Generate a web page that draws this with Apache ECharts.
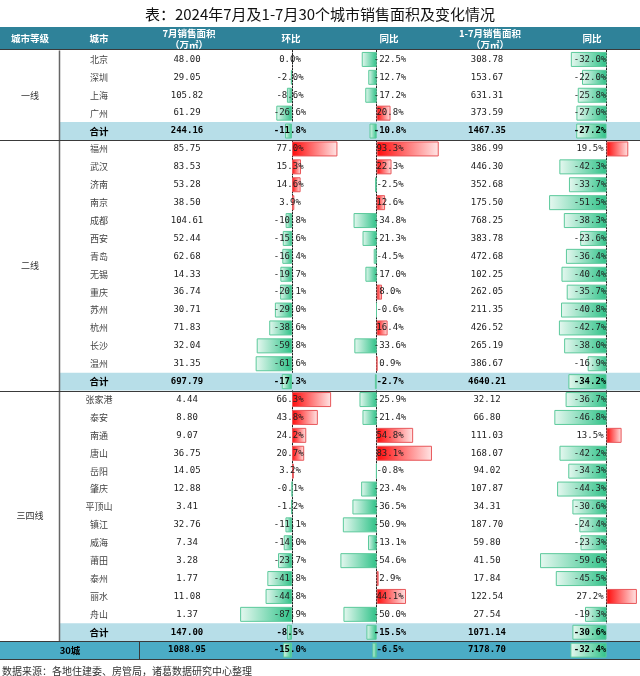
<!DOCTYPE html>
<html><head><meta charset="utf-8">
<script src="https://cdn.jsdelivr.net/npm/echarts/dist/echarts.min.js"></script>
<style>html,body{margin:0;padding:0;background:#fff}#c{width:640px;height:676px}</style>
</head><body><div id="c"></div>
<script>
// ---------- data ----------
const cities = ['北京','深圳','上海','广州','合计','福州','武汉','济南','南京','成都','西安','青岛','无锡','重庆','苏州','杭州','长沙','温州','合计','张家港','泰安','南通','唐山','岳阳','肇庆','平顶山','镇江','威海','莆田','泰州','丽水','舟山','合计','30城'];
const monthArea = [48.00,29.05,105.82,61.29,244.16, 85.75,83.53,53.28,38.50,104.61,52.44,62.68,14.33,36.74,30.71,71.83,32.04,31.35,697.79, 4.44,8.80,9.07,36.75,14.05,12.88,3.41,32.76,7.34,3.28,1.77,11.08,1.37,147.00, 1088.95];
const momPct = [0.0,-2.0,-8.6,-26.6,-11.8, 77.0,15.3,14.6,3.9,-10.8,-15.6,-16.4,-19.7,-20.1,-29.0,-38.6,-59.8,-61.6,-17.3, 66.3,43.8,24.2,20.7,3.2,-0.1,-1.2,-11.1,-14.0,-23.7,-41.8,-44.8,-87.9,-8.5, -15.0];
const yoyPct = [-22.5,-12.7,-17.2,20.8,-10.8, 93.3,22.3,-2.5,12.6,-34.8,-21.3,-4.5,-17.0,8.0,-0.6,16.4,-33.6,0.9,-2.7, -25.9,-21.4,54.8,83.1,-0.8,-23.4,-36.5,-50.9,-13.1,-54.6,2.9,44.1,-50.0,-15.5, -6.5];
const ytdArea = [308.78,153.67,631.31,373.59,1467.35, 386.99,446.30,352.68,175.50,768.25,383.78,472.68,102.25,262.05,211.35,426.52,265.19,386.67,4640.21, 32.12,66.80,111.03,168.07,94.02,107.87,34.31,187.70,59.80,41.50,17.84,122.54,27.54,1071.14, 7178.70];
const ytdYoyPct = [-32.0,-22.0,-25.8,-27.0,-27.2, 19.5,-42.3,-33.7,-51.5,-38.3,-23.6,-36.4,-40.4,-35.7,-40.8,-42.7,-38.0,-16.9,-34.2, -36.7,-46.8,13.5,-42.2,-34.3,-44.3,-30.6,-24.4,-23.3,-59.6,-45.5,27.2,-19.3,-30.6, -32.4];
const tierNames = ['一线','二线','三四线'];
const tierFirstRow = [0,5,19];
const tierLastRow = [4,18,32];
const headerLabels = ['城市等级','城市','7月销售面积\n（万㎡）','环比','同比','1-7月销售面积\n（万㎡）','同比'];
const titleText = '表：2024年7月及1-7月30个城市销售面积及变化情况';
const sourceText = '数据来源：各地住建委、房管局，诸葛数据研究中心整理';

// ---------- layout ----------
const W = 640, TOP = 50.5, ROWH = 17.9, N = cities.length, H = ROWH * N;
const CJK = '"Noto Sans CJK SC"';
const MONO = '"DejaVu Sans Mono"';
const rows = cities.map((_, i) => i);
const lastRow = N - 1;
const isTotal = i => cities[i] === '合计' || i === lastRow;
const pct = v => v.toFixed(1) + '%';

const chart = echarts.init(document.getElementById('c'), null, {renderer: 'canvas'});

const redGrad = () => new echarts.graphic.LinearGradient(0, 0, 1, 0, [{offset: 0, color: '#FF0A0A'}, {offset: 1, color: '#FFE6E6'}]);
const greenGrad = () => new echarts.graphic.LinearGradient(0, 0, 1, 0, [{offset: 0, color: '#E6F8F0'}, {offset: 1, color: '#2FC288'}]);
function barData(arr) {
  return arr.map(v => ({
    value: v,
    itemStyle: v >= 0
      ? {color: redGrad(), borderColor: '#E8575A', borderWidth: v === 0 ? 0 : 1}
      : {color: greenGrad(), borderColor: '#5BC99B', borderWidth: 1}
  }));
}

// grids: 0 = table text, 1 = 环比 bars, 2 = 同比 bars, 3 = 累计同比 bars
const barCols = [
  {left: 233, width: 118, min: -100, max: 100, data: momPct},
  {left: 310.2, width: 133, min: -100, max: 100, data: yoyPct},
  {left: 517.3, width: 123.75, min: -80, max: 30, data: ytdYoyPct}
];
const grids = [{left: 0, width: W, top: TOP, height: H, containLabel: false}]
  .concat(barCols.map(b => ({left: b.left, width: b.width, top: TOP, height: H, containLabel: false})));
const hiddenAxis = {axisLine: {show: false}, axisTick: {show: false}, axisLabel: {show: false}, splitLine: {show: false}};
const xAxes = [Object.assign({type: 'value', gridIndex: 0, min: 0, max: W}, hiddenAxis)]
  .concat(barCols.map((b, k) => Object.assign({type: 'value', gridIndex: k + 1, min: b.min, max: b.max}, hiddenAxis)));
const yAxes = [0, 1, 2, 3].map(k => ({
  type: 'category', gridIndex: k, data: rows, inverse: true,
  axisTick: {show: false}, axisLabel: {show: false}, splitLine: {show: false},
  axisLine: {show: k > 0, onZero: true, lineStyle: {type: [1.5, 1.5], color: '#1a1a1a', width: 1}}
}));

// table cells
const cells = [];
const colX = {city: 99, month: 187, mom: 290, yoy: 390, ytd: 487, ytdYoy: 590};
rows.forEach(i => {
  const b = isTotal(i);
  const numCell = (x, text) => cells.push({x, r0: i, r1: i, text, font: MONO, size: 9, bold: b, color: b ? '#000' : '#222'});
  cells.push({x: i === lastRow ? 70 : colX.city, r0: i, r1: i, text: cities[i], font: CJK, size: b ? 9.5 : 9, bold: b, color: b ? '#000' : '#444'});
  numCell(colX.month, monthArea[i].toFixed(2));
  numCell(colX.mom, pct(momPct[i]));
  numCell(colX.yoy, pct(yoyPct[i]));
  numCell(colX.ytd, ytdArea[i].toFixed(2));
  numCell(colX.ytdYoy, pct(ytdYoyPct[i]));
});
tierNames.forEach((t, k) => cells.push({x: 30, r0: tierFirstRow[k], r1: tierLastRow[k], text: t, font: CJK, size: 9, bold: false, color: '#333'}));

const bands = rows.filter(isTotal).map(i => ({row: i, x0: i === lastRow ? 0 : 59, fill: i === lastRow ? '#4BACC6' : '#B7DEE8'}));

const series = [
  {
    type: 'custom', xAxisIndex: 0, yAxisIndex: 0, z: 1, silent: true,
    data: bands.map(b => [b.x0, b.row]),
    renderItem: (params, api) => {
      const b = bands[params.dataIndex];
      const s = api.coord([b.x0, b.row]), e = api.coord([W, b.row]);
      const h = api.size([0, 1])[1];
      return {type: 'rect', shape: {x: s[0], y: s[1] - h / 2, width: e[0] - s[0], height: h}, style: {fill: b.fill}};
    }
  }
].concat(barCols.map((b, k) => ({
  type: 'bar', xAxisIndex: k + 1, yAxisIndex: k + 1, z: 2, barWidth: 15, silent: true,
  data: barData(b.data)
}))).concat([{
  type: 'custom', xAxisIndex: 0, yAxisIndex: 0, z: 5, silent: true,
  data: cells.map(c => [c.x, c.r0]),
  renderItem: (params, api) => {
    const c = cells[params.dataIndex];
    const p1 = api.coord([c.x, c.r0]), p2 = api.coord([c.x, c.r1]);
    return {type: 'text', x: p1[0], y: (p1[1] + p2[1]) / 2,
      style: {text: c.text, align: 'center', verticalAlign: 'middle', fontFamily: c.font, fontSize: c.size, fontWeight: c.bold ? 'bold' : 'normal', fill: c.color}};
  }
}]);

// header + rules
const headerX = [30, 99, 189, 291, 389, 490, 592];
const graphics = [
  {type: 'rect', z: 0, shape: {x: 0, y: 27, width: W, height: 22.5}, style: {fill: '#2F8299'}}
];
headerLabels.forEach((t, k) => graphics.push({
  type: 'text', z: 10, x: headerX[k], y: 38.5,
  style: {text: t, align: 'center', verticalAlign: 'middle', fontFamily: CJK, fontSize: 9.5, fontWeight: 'bold', fill: '#fff', lineHeight: 11}
}));
const lineStyle = {stroke: '#3a3a3a', lineWidth: 1};
const yAt = r => Math.round(TOP + ROWH * r) + 0.5;
[[0, 49.5, W, 49.5], [59.5, TOP, 59.5, yAt(33)], [0, yAt(5), W, yAt(5)], [0, yAt(19), W, yAt(19)],
 [0, yAt(33), W, yAt(33)], [0, yAt(34), W, yAt(34)], [139.5, yAt(33), 139.5, yAt(34)]]
  .forEach(l => graphics.push({type: 'line', z: 50, shape: {x1: l[0], y1: l[1], x2: l[2], y2: l[3]}, style: Object.assign({}, lineStyle, {stroke: l[0] === 59.5 ? '#666' : '#3a3a3a', lineWidth: l[0] === 59.5 ? 1.5 : 1})}));
graphics.push({type: 'text', z: 10, x: 2, y: 671, style: {text: sourceText, align: 'left', verticalAlign: 'middle', fontFamily: CJK, fontSize: 10, fill: '#333'}});

chart.setOption({
  animation: false,
  backgroundColor: '#fff',
  title: {text: titleText, left: 'center', top: 2, textStyle: {fontFamily: CJK, fontSize: 15, fontWeight: 'normal', color: '#111'}},
  grid: grids,
  xAxis: xAxes,
  yAxis: yAxes,
  series: series,
  graphic: {elements: graphics}
});
</script></body></html>
